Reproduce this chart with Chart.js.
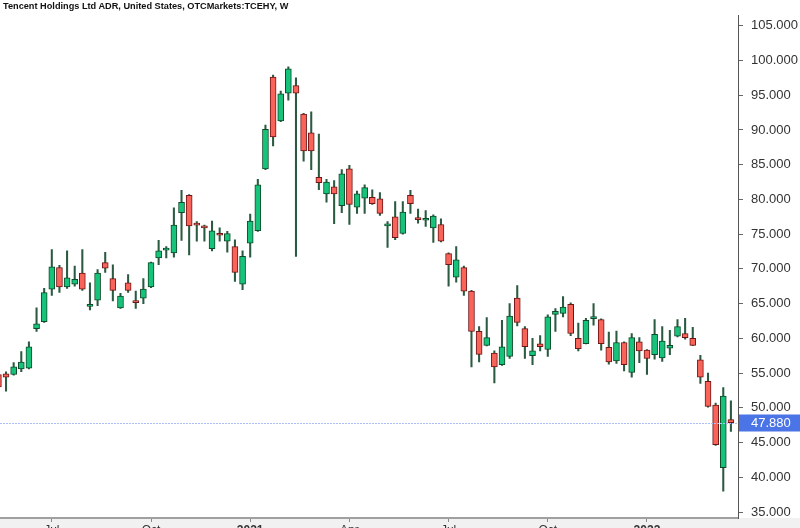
<!DOCTYPE html>
<html>
<head>
<meta charset="utf-8">
<script src="https://cdn.jsdelivr.net/npm/chart.js@4.4.1/dist/chart.umd.min.js"></script>
<style>
  html, body { margin: 0; padding: 0; background: #fff; overflow: hidden; }
  #wrap { position: relative; width: 800px; height: 541px; }
  #title { position: absolute; left: 3px; top: 1px; font: bold 9.2px "Liberation Sans", Arial, sans-serif; color: #111; white-space: nowrap; }
</style>
</head>
<body>
<div id="wrap">
  <canvas id="chart"></canvas>
  <div id="title">Tencent Holdings Ltd ADR, United States, OTCMarkets:TCEHY, W</div>
</div>
<script>
// weekly candles, first bar is the week of 2020-05-18
const firstWeek = '2020-05-18';
const opens  = [54.8, 54.9, 54.8, 55.6, 55.7, 61.4, 62.4, 67.1, 70.2, 67.4, 67.8, 69.4, 64.6, 65.5, 70.9, 68.6, 64.4, 68.0, 65.25, 65.8,
                67.4, 71.6, 72.7, 72.3, 78.1, 80.6, 76.6, 76.1, 72.9, 75.1, 74.0, 73.2, 67.8, 73.7, 75.5, 84.4, 97.6, 91.3, 95.3, 96.4,
                92.3, 89.6, 83.2, 80.8, 81.8, 79.1, 84.4, 78.9, 80.2, 80.3, 80.1, 76.2, 77.5, 75.1, 80.6, 77.4, 77.0, 75.9, 76.4, 72.2,
                68.8, 70.2, 66.8, 61.0, 59.0, 57.9, 56.2, 57.4, 65.8, 61.4, 57.5, 59.2, 58.4, 63.45, 63.6, 64.9, 60.0, 59.25, 62.85, 62.7,
                58.7, 56.75, 59.4, 55.1, 59.5, 58.3, 57.65, 57.2, 58.6, 60.3, 60.7, 60.0, 56.9, 53.8, 50.4, 41.4, 48.3];
const highs  = [55.1, 55.2, 56.5, 58.1, 59.5, 64.4, 67.2, 72.8, 70.5, 72.6, 70.4, 72.8, 68.0, 69.9, 72.4, 70.6, 66.5, 69.2, 66.8, 68.6,
                71.0, 74.1, 73.2, 78.8, 81.3, 80.7, 76.8, 76.3, 76.9, 75.9, 75.4, 74.2, 72.6, 77.9, 82.9, 90.7, 97.9, 95.6, 99.1, 97.5,
                92.4, 92.6, 89.4, 82.9, 82.7, 84.3, 84.9, 81.2, 82.1, 81.4, 81.0, 76.8, 79.7, 79.7, 81.3, 78.6, 78.4, 77.8, 77.2, 72.3,
                73.2, 70.4, 66.9, 61.7, 63.0, 58.2, 62.6, 65.0, 67.6, 61.7, 60.0, 60.4, 63.4, 64.3, 66.0, 65.1, 62.2, 62.9, 65.0, 62.8,
                60.9, 61.05, 59.5, 60.7, 60.1, 58.4, 62.7, 61.7, 61.15, 62.7, 62.9, 61.6, 57.55, 55.0, 50.7, 52.9, 51.0];
const lows   = [52.5, 52.4, 54.7, 55.2, 55.6, 61.0, 62.3, 66.2, 66.6, 67.2, 67.5, 66.9, 64.1, 64.7, 69.5, 65.4, 64.3, 66.6, 64.3, 65.0,
                67.3, 70.6, 71.6, 71.7, 74.1, 72.0, 74.0, 74.0, 72.6, 74.0, 72.4, 68.2, 67.0, 71.7, 75.4, 84.3, 87.7, 91.2, 94.3, 71.8,
                85.5, 84.3, 81.4, 79.6, 76.5, 78.1, 76.4, 78.0, 78.0, 79.3, 77.7, 73.1, 74.2, 75.0, 78.0, 76.6, 76.1, 73.8, 73.9, 67.5,
                68.1, 66.2, 55.9, 56.6, 58.9, 53.6, 56.1, 57.1, 61.8, 57.1, 56.2, 58.2, 57.4, 61.0, 63.1, 60.4, 58.2, 59.2, 61.9, 58.3,
                56.3, 56.4, 55.3, 54.4, 56.5, 54.8, 57.0, 56.7, 57.65, 60.2, 59.9, 58.95, 53.5, 50.1, 44.6, 38.0, 46.6];
const closes = [53.0, 54.4, 55.9, 56.6, 58.8, 62.1, 66.6, 70.3, 67.4, 68.7, 68.5, 67.1, 64.8, 69.4, 70.1, 66.9, 66.1, 66.9, 65.15, 67.1,
                70.9, 72.6, 72.9, 76.3, 79.6, 76.2, 76.3, 75.9, 75.5, 74.85, 75.1, 69.5, 71.8, 76.9, 82.1, 90.1, 89.0, 95.2, 98.8, 95.3,
                87.0, 87.0, 82.4, 82.5, 80.8, 83.7, 79.3, 80.8, 81.7, 79.4, 78.0, 76.4, 74.5, 78.2, 79.4, 77.1, 77.3, 77.6, 74.0, 70.6,
                71.3, 66.8, 61.0, 57.7, 60.1, 55.9, 58.8, 63.2, 62.3, 58.8, 58.2, 58.8, 63.1, 63.9, 64.5, 60.7, 58.5, 62.6, 63.05, 59.25,
                56.6, 59.4, 56.2, 60.1, 58.2, 57.1, 60.6, 59.6, 59.0, 61.7, 60.1, 59.0, 54.4, 50.2, 44.7, 51.7, 47.88];
const priceTicks = [35, 40, 45, 50, 55, 60, 65, 70, 75, 80, 85, 90, 95, 100, 105];
const monthNames = ['Jan', 'Feb', 'Mar', 'Apr', 'May', 'Jun', 'Jul', 'Aug', 'Sep', 'Oct', 'Nov', 'Dec'];

const FONT = '"Liberation Sans", Arial, sans-serif';
const UP = '#17c37b', UP_EDGE = '#0d4a27';
const DOWN = '#f8645a', DOWN_EDGE = '#6e1515';
const WICK = '#2a5a40';

// week start dates -> labels on the first week of each quarter
const t0 = Date.parse(firstWeek + 'T00:00:00Z');
const weekDate = (i) => new Date(t0 + i * 7 * 86400000);
const tickText = {};
for (let i = 1; i < closes.length; i++) {
  const d = weekDate(i), p = weekDate(i - 1);
  const m = d.getUTCMonth();
  if (m !== p.getUTCMonth() && m % 3 === 0) {
    tickText[i] = m === 0 ? String(d.getUTCFullYear()) : monthNames[m];
  }
}

const isUp = closes.map((c, i) => c >= opens[i]);
const last = closes.length - 1;

const bgPlugin = {
  id: 'bg',
  beforeDraw(chart) {
    const { ctx, chartArea, width, height } = chart;
    ctx.save();
    ctx.fillStyle = '#f1f1f1';
    ctx.fillRect(0, chartArea.bottom, width, height - chartArea.bottom);
    ctx.restore();
  }
};

const lastPricePlugin = {
  id: 'lastPrice',
  afterDraw(chart) {
    const { ctx, chartArea, width } = chart;
    const y = Math.round(chart.scales.y.getPixelForValue(closes[last])) + 0.5;
    ctx.save();
    ctx.strokeStyle = '#aebff5';
    ctx.lineWidth = 1;
    ctx.setLineDash([2, 1]);
    ctx.beginPath();
    ctx.moveTo(chartArea.left, y);
    ctx.lineTo(chartArea.right, y);
    ctx.stroke();
    ctx.setLineDash([]);
    ctx.fillStyle = '#4b74e6';
    ctx.fillRect(chartArea.right + 1, y - 9, width - chartArea.right - 1, 17);
    ctx.fillStyle = '#fff';
    ctx.font = '13px ' + FONT;
    ctx.textBaseline = 'middle';
    ctx.fillText(closes[last].toFixed(3), chartArea.right + 13, y);
    ctx.restore();
  }
};

new Chart(document.getElementById('chart'), {
  type: 'bar',
  data: {
    datasets: [
      {
        label: 'wick',
        data: highs.map((h, i) => ({ x: i, y: [lows[i], h] })),
        backgroundColor: WICK,
        barThickness: 1.4,
        grouped: false,
        order: 2
      },
      {
        label: 'body',
        data: opens.map((o, i) => ({ x: i, y: [o, closes[i]] })),
        backgroundColor: isUp.map(u => u ? UP : DOWN),
        borderColor: isUp.map(u => u ? UP_EDGE : DOWN_EDGE),
        borderWidth: 1,
        borderSkipped: false,
        barThickness: 6,
        minBarLength: 2,
        grouped: false,
        order: 1
      }
    ]
  },
  plugins: [bgPlugin, lastPricePlugin],
  options: {
    responsive: true,
    maintainAspectRatio: false,
    animation: false,
    layout: { padding: { top: 15, left: 0, right: 0, bottom: 0 } },
    plugins: { legend: { display: false }, tooltip: { enabled: false } },
    scales: {
      x: {
        type: 'linear',
        min: 0.21,
        max: 96.93,
        offset: false,
        afterBuildTicks: (axis) => { axis.ticks = Object.keys(tickText).map(k => ({ value: +k })); },
        afterFit: (axis) => { axis.height = 23; },
        grid: { display: true, drawOnChartArea: false, offset: false, tickLength: 4, color: '#8a8a8a' },
        border: { display: true, color: '#a0a0a0', width: 2 },
        ticks: {
          autoSkip: false,
          maxRotation: 0,
          padding: 1,
          color: '#333',
          font: (c) => ({ family: FONT, size: 12, weight: (c.tick && /^\d/.test(tickText[c.tick.value] || '')) ? 'bold' : 'normal' }),
          callback: (v) => tickText[v] || ''
        }
      },
      y: {
        position: 'right',
        min: 34.14,
        max: 106.44,
        afterBuildTicks: (axis) => { axis.ticks = priceTicks.map(v => ({ value: v })); },
        afterFit: (axis) => { axis.width = 62; },
        grid: { display: true, drawOnChartArea: false, tickLength: 5, color: '#666' },
        border: { display: true, color: '#555', width: 1 },
        ticks: {
          padding: 8,
          color: '#333',
          font: { family: FONT, size: 13 },
          callback: (v) => v.toFixed(3)
        }
      }
    }
  }
});
</script>
</body>
</html>
